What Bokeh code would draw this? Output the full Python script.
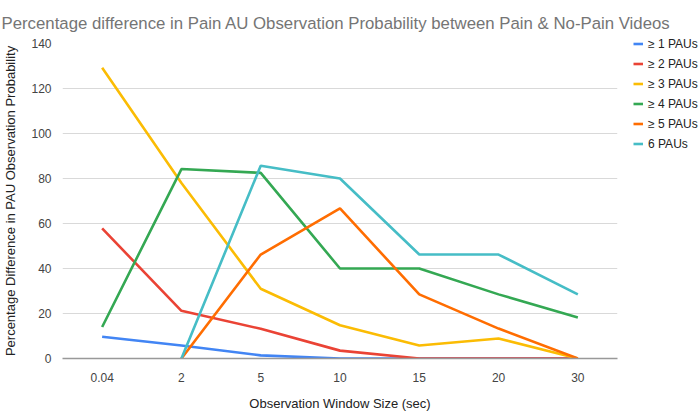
import numpy as np
from bokeh.plotting import figure
from bokeh.models import Legend, LegendItem, FactorRange, FixedTicker
from bokeh.embed import file_html
from bokeh.resources import INLINE

windows = ["0.04", "2", "5", "10", "15", "20", "30"]
series_names = ["≥ 1 PAUs", "≥ 2 PAUs", "≥ 3 PAUs", "≥ 4 PAUs", "≥ 5 PAUs", "6 PAUs"]
pau1 = [9.7, 5.8, 1.4, 0, 0, 0, 0]
pau2 = [57.8, 21.2, 13.2, 3.5, 0, 0, 0]
pau3 = [129.2, 78.0, 31.0, 14.8, 5.8, 8.9, 0]
pau4 = [14.0, 84.2, 82.5, 40.0, 40.0, 28.5, 18.2]
pau5 = [np.nan, 0, 46.2, 66.7, 28.5, 13.3, 0]
pau6 = [np.nan, 0, 85.7, 80.0, 46.2, 46.2, 28.5]
colors = ["#4285F4", "#EA4335", "#FBBC04", "#34A853", "#FF6D01", "#46BDC6"]
yticks = [0, 20, 40, 60, 80, 100, 120, 140]
title_text = "Percentage difference in Pain AU Observation Probability between Pain & No-Pain Videos"

FONT = "Liberation Sans"

p = figure(frame_width=555, frame_height=315, x_range=FactorRange(*windows, range_padding=0),
           y_range=(0, 140), output_backend="svg", toolbar_location=None,
           min_border_left=62, min_border_right=80, min_border_top=43, min_border_bottom=56,
           title=title_text)
p.outline_line_color = None
p.background_fill_color = "white"

p.title.text_font = FONT
p.title.text_font_size = "16.8px"
p.title.text_font_style = "normal"
p.title.text_color = "#757575"
p.title.offset = -61
p.title.standoff = 17
p.title.vertical_align = "top"

items = []
for name, vals, c in zip(series_names, [pau1, pau2, pau3, pau4, pau5, pau6], colors):
    r = p.line(windows, vals, line_color=c, line_width=2.6)
    items.append(LegendItem(label=name, renderers=[r]))

legend = Legend(items=items, location=(16, 206), glyph_width=10, glyph_height=17,
                label_height=17, spacing=3, padding=0, margin=0, label_standoff=5,
                border_line_color=None, background_fill_alpha=0,
                label_text_font=FONT, label_text_font_size="12px", label_text_color="#222222")
p.add_layout(legend, "right")

p.yaxis.ticker = FixedTicker(ticks=yticks)
p.yaxis.axis_line_color = None
p.yaxis.major_tick_line_color = None
p.yaxis.minor_tick_line_color = None
p.yaxis.major_label_text_font = FONT
p.yaxis.major_label_text_font_size = "12px"
p.yaxis.major_label_text_color = "#444444"
p.yaxis.major_label_standoff = 5
p.yaxis.axis_label = "Percentage Difference in PAU Observation Probability"
p.yaxis.axis_label_text_font = FONT
p.yaxis.axis_label_text_font_size = "13px"
p.yaxis.axis_label_text_font_style = "normal"
p.yaxis.axis_label_text_color = "#222222"
p.yaxis.axis_label_standoff = 10

p.xaxis.axis_line_color = "#999999"
p.xaxis.axis_line_width = 1.5
p.xaxis.major_tick_line_color = None
p.xaxis.minor_tick_line_color = None
p.xaxis.major_label_text_font = FONT
p.xaxis.major_label_text_font_size = "12px"
p.xaxis.major_label_text_color = "#444444"
p.xaxis.major_label_standoff = 8
p.xaxis.axis_label = "Observation Window Size (sec)"
p.xaxis.axis_label_text_font = FONT
p.xaxis.axis_label_text_font_size = "13px"
p.xaxis.axis_label_text_font_style = "normal"
p.xaxis.axis_label_text_color = "#222222"
p.xaxis.axis_label_standoff = 11

p.xgrid.grid_line_color = None
p.ygrid.grid_line_color = "#d9d9d9"

open("out.html", "w").write(file_html(p, INLINE))
